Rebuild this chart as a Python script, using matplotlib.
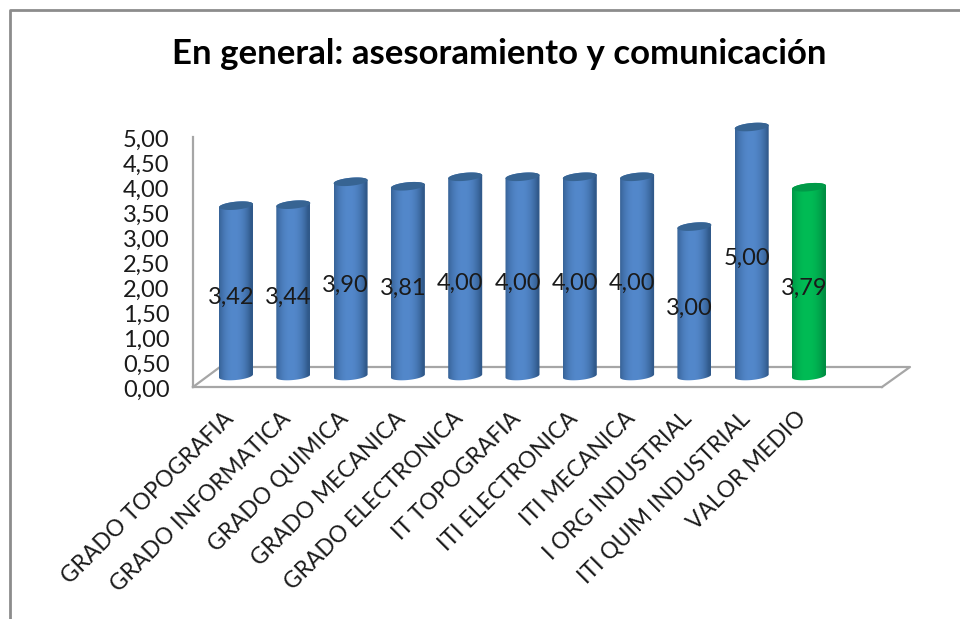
import matplotlib
matplotlib.use("Agg")
import matplotlib.pyplot as plt
from matplotlib.lines import Line2D
from matplotlib.patches import Polygon
from matplotlib.transforms import ScaledTranslation
import numpy as np

plt.rcParams['font.family'] = ['Lato', 'DejaVu Sans']

categories = ["GRADO TOPOGRAFIA", "GRADO INFORMATICA", "GRADO QUIMICA", "GRADO MECANICA",
              "GRADO ELECTRONICA", "IT TOPOGRAFIA", "ITI ELECTRONICA", "ITI MECANICA",
              "I ORG INDUSTRIAL", "ITI QUIM INDUSTRIAL", "VALOR MEDIO"]
values = [3.42, 3.44, 3.90, 3.81, 4.00, 4.00, 4.00, 4.00, 3.00, 5.00, 3.79]
value_labels = ["3,42", "3,44", "3,90", "3,81", "4,00", "4,00", "4,00", "4,00", "3,00", "5,00", "3,79"]
y_ticks = [0, 0.5, 1, 1.5, 2, 2.5, 3, 3.5, 4, 4.5, 5]
y_tick_labels = ["0,00", "0,50", "1,00", "1,50", "2,00", "2,50", "3,00", "3,50", "4,00", "4,50", "5,00"]

W, H = 960, 619
GRAY = "#a6a6a6"


def axes_rect(left, top, right, bottom):
    # pixel box (from top left) to figure fractions
    return [left / W, 1 - bottom / H, (right - left) / W, (bottom - top) / H]


def px_line(fig, xs, ys, color=GRAY, lw=1.6, z=0):
    fig.add_artist(Line2D([x / W for x in xs], [1 - y / H for y in ys],
                          color=color, lw=lw, zorder=z))


def cylinder(ax, x, v, half_w, ry, tilt, edge, mid, cap):
    t = np.linspace(0, np.pi, 40)
    # lower arc of the base, then back along the upper arc of the top
    bx = x - half_w * np.cos(t)
    by = -ry * np.sin(t) - tilt * np.cos(t)
    tx = x + half_w * np.cos(t)
    ty = v + ry * np.sin(t) + tilt * np.cos(t)
    outline = np.column_stack([np.r_[bx, tx], np.r_[by, ty]])
    body = Polygon(outline, closed=True, facecolor="none", edgecolor="none",
                   transform=ax.transData, clip_on=False)
    ax.add_patch(body)

    c0 = np.array(matplotlib.colors.to_rgb(edge))
    c1 = np.array(matplotlib.colors.to_rgb(mid))
    s = np.linspace(-1, 1, 64)
    k = (1 - np.abs(s + 0.1) ** 2.2).clip(0, 1)[:, None]
    grad = (c0 + (c1 - c0) * k)[None, :, :]
    im = ax.imshow(grad, extent=[x - half_w, x + half_w, -ry - tilt, v + ry + tilt],
                   aspect="auto", zorder=2, interpolation="bilinear")
    # the base hangs below the axes box
    im.set_clip_box(ax.figure.bbox)
    im.set_clip_path(body)

    tt = np.linspace(0, 2 * np.pi, 60)
    ax.add_patch(Polygon(np.column_stack([x + half_w * np.cos(tt),
                                          v + ry * np.sin(tt) + tilt * np.cos(tt)]),
                         closed=True, facecolor=cap, edgecolor="none", zorder=3, clip_on=False))


fig = plt.figure(figsize=(W / 100, H / 100), dpi=100, facecolor="white")

# outer chart border, only top and left are visible
px_line(fig, [10, 10, 960], [619, 10, 10], color="#8c8c8c", lw=2)

fig.text(499 / W, 1 - 54 / H, "En general: asesoramiento y comunicación",
         ha="center", va="center", fontsize=25, fontweight="bold", color="black")

# floor of the 3D box
px_line(fig, [193, 220, 910, 882], [387, 367, 367, 387])

x_px0, dx_px = 236, 57.3
xlim = ((193 - x_px0) / dx_px, (882 - x_px0) / dx_px)

# axes with the ticks: the wall and the front of the floor
ax = fig.add_axes(axes_rect(193, 137, 882, 387), facecolor="none", zorder=1)
ax.set_xlim(xlim)
ax.set_ylim(0, 5)
for side in ("top", "right"):
    ax.spines[side].set_visible(False)
for side in ("left", "bottom"):
    ax.spines[side].set_color(GRAY)
    ax.spines[side].set_linewidth(1.6)
ax.set_yticks(y_ticks, y_tick_labels, fontsize=17, color="#1a1a1a")
ax.tick_params(axis="y", length=0, pad=17)
ax.set_xticks(range(len(categories)))
ax.set_xticklabels(categories, rotation=45, ha="right", va="top", rotation_mode="anchor",
                   fontsize=16.4, color="#1a1a1a")
ax.tick_params(axis="x", length=0, pad=15)
# nudge the slanted labels left, and the value labels down a little
shift_x = ScaledTranslation(-13 / 100, 0, fig.dpi_scale_trans)
for lab in ax.get_xticklabels():
    lab.set_transform(lab.get_transform() + shift_x)
shift_y = ScaledTranslation(0, -1.5 / 100, fig.dpi_scale_trans)
for lab in ax.get_yticklabels():
    lab.set_transform(lab.get_transform() + shift_y)

# bars sit further back in the box, so this one is shifted up
bar_ax = fig.add_axes(axes_rect(193, 127, 882, 376), facecolor="none", zorder=2)
bar_ax.axis("off")
for i, v in enumerate(values):
    if categories[i] == "VALOR MEDIO":
        edge, mid, cap = "#008f43", "#00bc55", "#009a48"
    else:
        edge, mid, cap = "#30598a", "#5388cb", "#376493"
    cylinder(bar_ax, i, v, 17 / dx_px, 4 / 49.8, 1.6 / 49.8, edge, mid, cap)
    bar_ax.annotate(value_labels[i], (i, v / 2), xytext=(-3.5, -5), textcoords="offset points",
                    ha="center", va="center", fontsize=17, color="#1a1a1a", zorder=5,
                    annotation_clip=False)
bar_ax.set_xlim(xlim)
bar_ax.set_ylim(0, 5)

fig.savefig("out.png", dpi=100)
